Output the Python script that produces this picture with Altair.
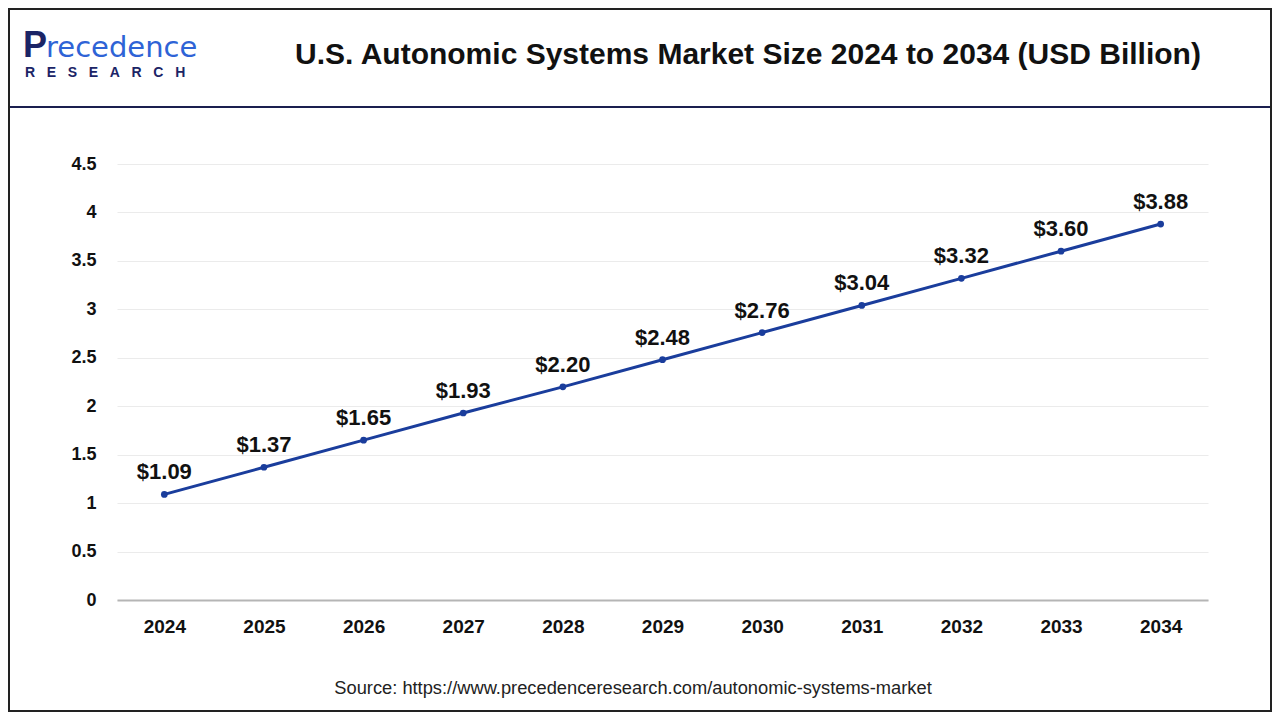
import altair as alt
import pandas as pd

years = ["2024", "2025", "2026", "2027", "2028", "2029", "2030", "2031", "2032", "2033", "2034"]
values = [1.09, 1.37, 1.65, 1.93, 2.20, 2.48, 2.76, 3.04, 3.32, 3.60, 3.88]
labels = ["$1.09", "$1.37", "$1.65", "$1.93", "$2.20", "$2.48", "$2.76", "$3.04", "$3.32", "$3.60", "$3.88"]
y_ticks = [0, 0.5, 1, 1.5, 2, 2.5, 3, 3.5, 4, 4.5]
title_text = ["U.S. Autonomic Systems Market Size 2024 to 2034 (USD Billion)"]
source_text = ["Source: https://www.precedenceresearch.com/autonomic-systems-market"]
logo_word = "RESEARCH"

df = pd.DataFrame({"year": years, "value": values, "label": labels})

W, H = 1091, 436
PL, PT = 109, 156
TOTAL_W, TOTAL_H = 1264, 704
FONT = "Liberation Sans"
LINE_COLOR = "#1a3d9c"
NB = "\u00a0"

x_enc = alt.X("year:O", scale=alt.Scale(type="point", padding=0.475),
              axis=alt.Axis(title=None, labelAngle=0, labelFont=FONT, labelFontSize=19,
                            labelFontWeight="bold", labelColor="#111111", labelPadding=17,
                            ticks=False, domainColor="#b5b5b5", domainWidth=2, grid=False))
y_enc = alt.Y("value:Q", scale=alt.Scale(domain=[0, 4.5], nice=False),
              axis=alt.Axis(title=None, values=y_ticks, format="~g", labelFont=FONT, labelFontSize=18,
                            labelFontWeight="bold", labelColor="#111111", labelPadding=21,
                            ticks=False, domain=False, gridColor="#ebebeb", gridWidth=1))

base = alt.Chart(df)
line = base.mark_line(color=LINE_COLOR, strokeWidth=3).encode(x=x_enc, y=y_enc)
pts = base.mark_point(filled=True, color=LINE_COLOR, size=45, opacity=1).encode(x="year:O", y="value:Q")
txt = base.mark_text(font=FONT, fontSize=22, fontWeight="bold", color="#111111",
                     baseline="bottom", dy=-10).encode(x="year:O", y="value:Q", text="label:N")

title = alt.Chart(pd.DataFrame({"t": title_text})).mark_text(
    font=FONT, fontSize=30, fontWeight="bold", color="#111111", align="center", baseline="middle"
).encode(x=alt.value(631), y=alt.value(-109), text="t:N")

source = alt.Chart(pd.DataFrame({"t": source_text})).mark_text(
    font=FONT, fontSize=18.3, color="#222222", align="center", baseline="middle"
).encode(x=alt.value(516), y=alt.value(525), text="t:N")

logo_p = alt.Chart(pd.DataFrame({"t": ["P"]})).mark_text(
    font=FONT, fontSize=36, fontWeight="bold", color="#1b2466", align="left", baseline="alphabetic"
).encode(x=alt.value(-94), y=alt.value(-107), text="t:N")
logo_rest = alt.Chart(pd.DataFrame({"t": ["recedence"]})).mark_text(
    font="DejaVu Sans", fontSize=29, color="#2e63d6", align="left", baseline="alphabetic"
).encode(x=alt.value(-71), y=alt.value(-107), text="t:N")
logo_r = alt.Chart(pd.DataFrame({"t": [(NB * 3).join(logo_word)]})).mark_text(
    font=FONT, fontSize=14, fontWeight="bold", color="#1b2466", align="left", baseline="middle"
).encode(x=alt.value(-92), y=alt.value(-91), text="t:N")

header_line = alt.Chart(pd.DataFrame({"a": [0]})).mark_rule(color="#1a1f4f", strokeWidth=2).encode(
    x=alt.value(-PL), x2=alt.value(TOTAL_W - PL), y=alt.value(-57))

frame = alt.Chart(pd.DataFrame({"a": [0]})).mark_rect(fill=None, stroke="#222222", strokeWidth=2).encode(
    x=alt.value(-PL + 1), x2=alt.value(TOTAL_W - PL - 1), y=alt.value(-PT + 1), y2=alt.value(TOTAL_H - PT - 1))

chart = alt.layer(line, pts, txt, title, source, logo_p, logo_rest, logo_r, header_line, frame).properties(
    width=W, height=H,
    autosize=alt.AutoSizeParams(type="none"),
    padding={"left": PL, "top": PT, "right": TOTAL_W - PL - W, "bottom": TOTAL_H - PT - H},
    background="white",
).configure_view(stroke=None)

chart.save("out.html", embed_options={"renderer": "svg", "actions": False})
